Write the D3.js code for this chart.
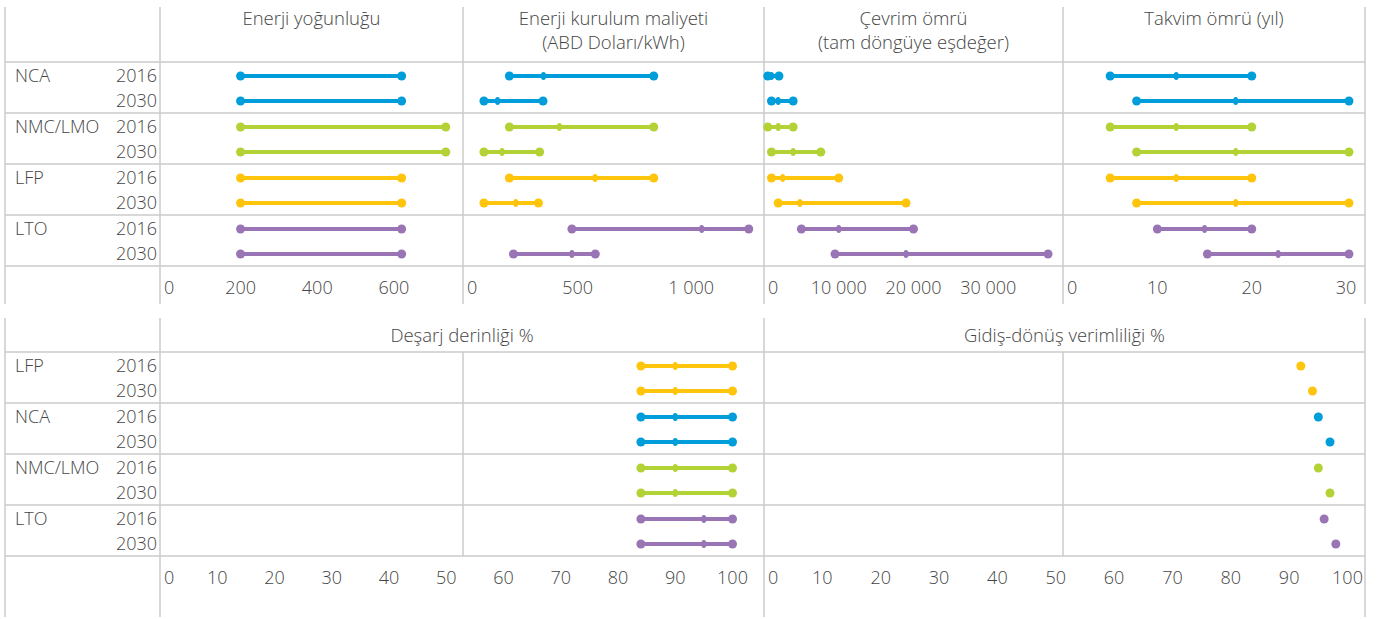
<!DOCTYPE html>
<html>
<head>
<meta charset="utf-8">
<script src="https://cdn.jsdelivr.net/npm/d3@7"></script>
<style>
    body { margin: 0; background: #fff; }
    text { font-family: "Open Sans", sans-serif; font-weight: 300; fill: #454545; }
</style>
</head>
<body>
<div id="viz"></div>
<script>
const width = 1377;
const height = 619;

// categories
const chemistries = ["NCA", "NMC/LMO", "LFP", "LTO"];
const bottomOrder = ["LFP", "NCA", "NMC/LMO", "LTO"];
const years = ["2016", "2030"];

// rows: [chemistry, year, low, central, high]
const energyDensity = [
    ["NCA", "2016", 200, null, 620], ["NCA", "2030", 200, null, 620],
    ["NMC/LMO", "2016", 200, null, 735], ["NMC/LMO", "2030", 200, null, 735],
    ["LFP", "2016", 200, null, 620], ["LFP", "2030", 200, null, 620],
    ["LTO", "2016", 200, null, 620], ["LTO", "2030", 200, null, 620]
];
const installCost = [
    ["NCA", "2016", 200, 350, 835], ["NCA", "2030", 88, 148, 348],
    ["NMC/LMO", "2016", 200, 420, 835], ["NMC/LMO", "2030", 88, 168, 333],
    ["LFP", "2016", 200, 577, 835], ["LFP", "2030", 88, 228, 328],
    ["LTO", "2016", 475, 1046, 1253], ["LTO", "2030", 218, 475, 578]
];
const cycleLife = [
    ["NCA", "2016", 500, 1000, 2000], ["NCA", "2030", 1000, 1900, 3900],
    ["NMC/LMO", "2016", 500, 1900, 3900], ["NMC/LMO", "2030", 1000, 3900, 7600],
    ["LFP", "2016", 1000, 2500, 10000], ["LFP", "2030", 1900, 4800, 19000],
    ["LTO", "2016", 5000, 10000, 20000], ["LTO", "2030", 9500, 19000, 38000]
];
const calendarLife = [
    ["NCA", "2016", 5, 12, 20], ["NCA", "2030", 7.8, 18.3, 30.3],
    ["NMC/LMO", "2016", 5, 12, 20], ["NMC/LMO", "2030", 7.8, 18.3, 30.3],
    ["LFP", "2016", 5, 12, 20], ["LFP", "2030", 7.8, 18.3, 30.3],
    ["LTO", "2016", 10, 15, 20], ["LTO", "2030", 15.3, 22.8, 30.3]
];
const depthOfDischarge = [
    ["LFP", "2016", 84, 90, 100], ["LFP", "2030", 84, 90, 100],
    ["NCA", "2016", 84, 90, 100], ["NCA", "2030", 84, 90, 100],
    ["NMC/LMO", "2016", 84, 90, 100], ["NMC/LMO", "2030", 84, 90, 100],
    ["LTO", "2016", 84, 95, 100], ["LTO", "2030", 84, 95, 100]
];
// single value per row: [chemistry, year, value]
const roundTrip = [
    ["LFP", "2016", 92], ["LFP", "2030", 94],
    ["NCA", "2016", 95], ["NCA", "2030", 97],
    ["NMC/LMO", "2016", 95], ["NMC/LMO", "2030", 97],
    ["LTO", "2016", 96], ["LTO", "2030", 98]
];

// tick labels
const energyTicks = [0, 200, 400, 600];
const costTicks = [0, 500, 1000];
const cycleTicks = [0, 10000, 20000, 30000];
const calendarTicks = [0, 10, 20, 30];
const percentTicks = [0, 10, 20, 30, 40, 50, 60, 70, 80, 90, 100];

const color = d3.scaleOrdinal()
    .domain(chemistries)
    .range(["#009ddb", "#b3d235", "#ffc40c", "#9975b5"]);

const fmt = d3.formatLocale({ decimal: ",", thousands: " ", grouping: [3], currency: ["", ""] }).format(",d");

const svg = d3.select("#viz")
    .append("svg")
    .attr("width", width)
    .attr("height", height);

const gridColor = "#cbcbcb";
const leftX = 5, labelX = 160, rightX = 1365;
const groupH = 51;
const fontSize = "18px";
const titleSize = "18.5px";

// draws one section (header row + 4 groups + tick row)
const section = (cfg) => {
    const { top, headerBottom, bottom, groups, panels, innerLines } = cfg;
    const g = svg.append("g");
    const groupTops = groups.map((d, i) => headerBottom + i * groupH);
    const rowY = d3.scaleOrdinal().domain(years).range([14, 39]);

    // horizontal separators
    g.selectAll(".hline")
        .data(groupTops.concat([headerBottom + groups.length * groupH]))
        .enter().append("line")
        .attr("x1", leftX).attr("x2", rightX)
        .attr("y1", d => d).attr("y2", d => d)
        .attr("stroke", gridColor).attr("stroke-width", 1.5);

    // vertical borders
    const vx = [leftX, labelX].concat(panels.map(p => p.x1));
    g.selectAll(".vline")
        .data(vx)
        .enter().append("line")
        .attr("x1", d => d).attr("x2", d => d)
        .attr("y1", top).attr("y2", bottom)
        .attr("stroke", gridColor).attr("stroke-width", 1.5);

    (innerLines || []).forEach(x => {
        g.append("line")
            .attr("x1", x).attr("x2", x)
            .attr("y1", headerBottom).attr("y2", headerBottom + groups.length * groupH)
            .attr("stroke", gridColor).attr("stroke-width", 1.5);
    });

    // row labels
    groups.forEach((chem, i) => {
        g.append("text")
            .attr("x", 15).attr("y", groupTops[i] + rowY("2016") + 6)
            .style("font-size", fontSize)
            .text(chem);
        years.forEach(yr => {
            g.append("text")
                .attr("x", 157).attr("y", groupTops[i] + rowY(yr) + 6)
                .attr("text-anchor", "end")
                .style("font-size", fontSize)
                .text(yr);
        });
    });

    const rowPos = (chem, yr) => groupTops[groups.indexOf(chem)] + rowY(yr);

    panels.forEach(p => {
        const x = d3.scaleLinear().domain(p.domain).range([p.x0, p.x1]);

        // title
        p.title.forEach((t, i) => {
            g.append("text")
                .attr("x", (p.x0 + p.x1) / 2)
                .attr("y", p.titleY + i * 24)
                .attr("text-anchor", "middle")
                .style("font-size", titleSize)
                .text(t);
        });

        // tick labels
        g.selectAll(null)
            .data(p.ticks)
            .enter().append("text")
            .attr("x", d => d === 0 ? p.x0 + 4 : x(d))
            .attr("y", p.tickY)
            .attr("text-anchor", d => d === 0 ? "start" : "middle")
            .style("font-size", fontSize)
            .text(d => fmt(d));

        const marks = g.append("g");
        if (p.single) {
            marks.selectAll("circle")
                .data(p.data)
                .enter().append("circle")
                .attr("cx", d => x(d[2]))
                .attr("cy", d => rowPos(d[0], d[1]))
                .attr("r", 4.5)
                .attr("fill", d => color(d[0]));
            return;
        }
        marks.selectAll("line")
            .data(p.data)
            .enter().append("line")
            .attr("x1", d => x(d[2])).attr("x2", d => x(d[4]))
            .attr("y1", d => rowPos(d[0], d[1])).attr("y2", d => rowPos(d[0], d[1]))
            .attr("stroke", d => color(d[0]))
            .attr("stroke-width", 4);
        p.data.forEach(d => {
            [d[2], d[4]].forEach(v => {
                marks.append("circle")
                    .attr("cx", x(v)).attr("cy", rowPos(d[0], d[1]))
                    .attr("r", 4.5)
                    .attr("fill", color(d[0]));
            });
            if (d[3] != null) {
                marks.append("ellipse")
                    .attr("cx", x(d[3])).attr("cy", rowPos(d[0], d[1]))
                    .attr("rx", 2.6).attr("ry", 4)
                    .attr("fill", color(d[0]));
            }
        });
    });
};

// top block
section({
    top: 7, headerBottom: 62, bottom: 304,
    groups: chemistries,
    panels: [
        { title: ["Enerji yoğunluğu"], data: energyDensity, domain: [-10, 780], ticks: energyTicks, x0: 160, x1: 463, titleY: 25, tickY: 294 },
        { title: ["Enerji kurulum maliyeti", "(ABD Doları/kWh)"], data: installCost, domain: [-4, 1320], ticks: costTicks, x0: 463, x1: 764, titleY: 25, tickY: 294 },
        { title: ["Çevrim ömrü", "(tam döngüye eşdeğer)"], data: cycleLife, domain: [0, 40000], ticks: cycleTicks, x0: 764, x1: 1063, titleY: 25, tickY: 294 },
        { title: ["Takvim ömrü (yıl)"], data: calendarLife, domain: [0, 32], ticks: calendarTicks, x0: 1063, x1: 1365, titleY: 25, tickY: 294 }
    ]
});

// bottom block
section({
    top: 318, headerBottom: 352, bottom: 617,
    groups: bottomOrder,
    innerLines: [463, 1063],
    panels: [
        { title: ["Deşarj derinliği %"], data: depthOfDischarge, domain: [0, 105.5], ticks: percentTicks, x0: 160, x1: 764, titleY: 342, tickY: 584 },
        { title: ["Gidiş-dönüş verimliliği %"], data: roundTrip, single: true, domain: [0, 103], ticks: percentTicks, x0: 764, x1: 1365, titleY: 342, tickY: 584 }
    ]
});
</script>
</body>
</html>
